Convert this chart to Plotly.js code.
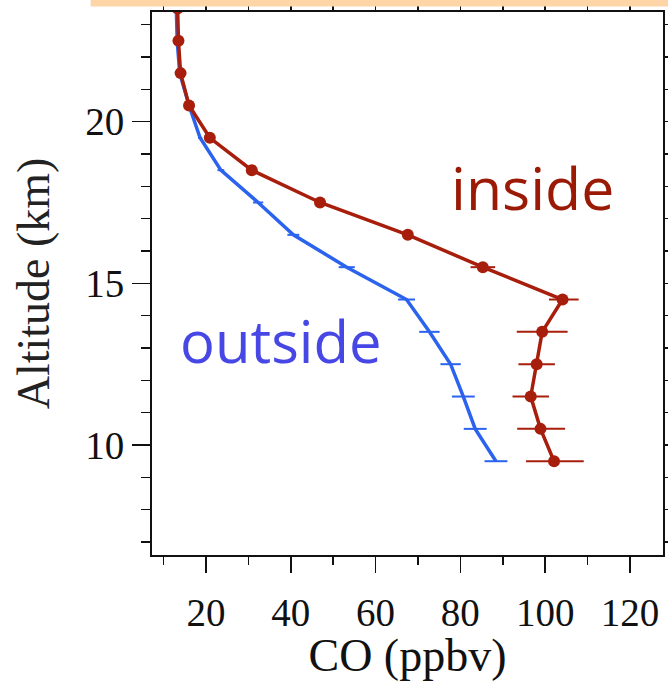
<!DOCTYPE html>
<html>
<head>
<meta charset="utf-8">
<script src="https://cdn.plot.ly/plotly-3.0.1.min.js"></script>
<style>html,body{margin:0;padding:0;background:#fff;}#chart{width:668px;height:681px;}</style>
</head>
<body>
<div id="chart"></div>
<script>
// Altitude levels (km)
const altitude = [23.5, 22.5, 21.5, 20.5, 19.5, 18.5, 17.5, 16.5, 15.5, 14.5, 13.5, 12.5, 11.5, 10.5, 9.5];
// CO inside (ppbv) with horizontal error bars
const insideCO = [13.3, 13.5, 14.0, 16.0, 20.9, 30.8, 46.9, 67.6, 85.3, 104.1, 99.3, 98.0, 96.6, 98.9, 102.1];
const insideErrPlus = [0, 0, 0, 0, 0, 0, 0.8, 1.0, 2.9, 3.8, 6.0, 4.3, 4.3, 5.8, 7.0];
const insideErrMinus = [0, 0, 0, 0, 0, 0, 0.8, 1.0, 2.9, 3.2, 6.0, 4.3, 4.3, 5.5, 6.6];
// CO outside (ppbv) with horizontal error bars
const outsideCO = [13.0, 13.2, 13.8, 16.0, 18.6, 23.5, 32.3, 40.6, 53.2, 67.3, 72.7, 77.7, 80.7, 83.5, 88.4];
const outsideErr = [0, 0, 0, 0, 0.5, 0.8, 1.2, 1.4, 1.9, 2.0, 2.4, 2.4, 2.7, 2.7, 2.7];

const labels = {inside: 'inside', outside: 'outside', x: 'CO (ppbv)', y: 'Altitude (km)'};

const RED = '#A81E0C';
const BLUE = '#2B63EE';
const serif = 'Liberation Serif, Times New Roman, serif';

const traces = [
  {
    x: outsideCO, y: altitude, type: 'scatter', mode: 'lines',
    line: {color: BLUE, width: 3.5},
    error_x: {type: 'data', array: outsideErr, color: BLUE, thickness: 2, width: 0},
    hoverinfo: 'skip', showlegend: false
  },
  {
    x: insideCO, y: altitude, type: 'scatter', mode: 'lines+markers',
    line: {color: RED, width: 3.5},
    marker: {color: RED, size: 12},
    error_x: {type: 'data', symmetric: false, array: insideErrPlus, arrayminus: insideErrMinus, color: RED, thickness: 2, width: 0},
    hoverinfo: 'skip', showlegend: false
  }
];

const axisCommon = {
  showgrid: false, zeroline: false,
  showline: true, linecolor: '#111', linewidth: 2, mirror: 'ticks',
  ticks: 'outside', tickcolor: '#111', tickwidth: 1.5,
  tickfont: {family: serif, size: 39, color: '#111'}
};

const layout = {
  width: 668, height: 681,
  margin: {l: 152, r: 5, t: 12, b: 126},
  paper_bgcolor: '#fff', plot_bgcolor: '#fff',
  xaxis: Object.assign({}, axisCommon, {
    range: [7.26, 127.8], tick0: 0, dtick: 20, ticklen: 16, ticklabelstandoff: 6,
    minor: {dtick: 10, tick0: 0, ticks: 'outside', ticklen: 8, tickwidth: 1.5, tickcolor: '#111', showgrid: false},
    title: {text: labels.x, font: {family: serif, size: 46, color: '#111'}, standoff: 3}
  }),
  yaxis: Object.assign({}, axisCommon, {
    range: [6.6, 23.39], tick0: 0, dtick: 5, ticklen: 18,
    minor: {dtick: 1, tick0: 0, ticks: 'outside', ticklen: 9, tickwidth: 1.5, tickcolor: '#111', showgrid: false},
    title: {text: labels.y, font: {family: serif, size: 46, color: '#222', weight: 'normal'}, standoff: 21}
  }),
  annotations: [
    {text: labels.inside, xref: 'x', yref: 'y', x: 77.3, y: 17.98, xanchor: 'left', yanchor: 'middle', showarrow: false,
     font: {family: 'Open Sans, sans-serif', size: 59, color: '#9A1A06'}},
    {text: labels.outside, xref: 'x', yref: 'y', x: 13.4, y: 13.23, xanchor: 'left', yanchor: 'middle', showarrow: false,
     font: {family: 'Open Sans, sans-serif', size: 58, color: '#4747E6'}}
  ],
  shapes: [
    {type: 'rect', xref: 'paper', yref: 'paper', x0: -0.12, x1: 1.03, y0: 1.0103, y1: 1.04,
     fillcolor: '#FDD5A6', line: {width: 0}, layer: 'above'}
  ]
};

Plotly.newPlot('chart', traces, layout, {displayModeBar: false, staticPlot: true});
</script>
</body>
</html>
